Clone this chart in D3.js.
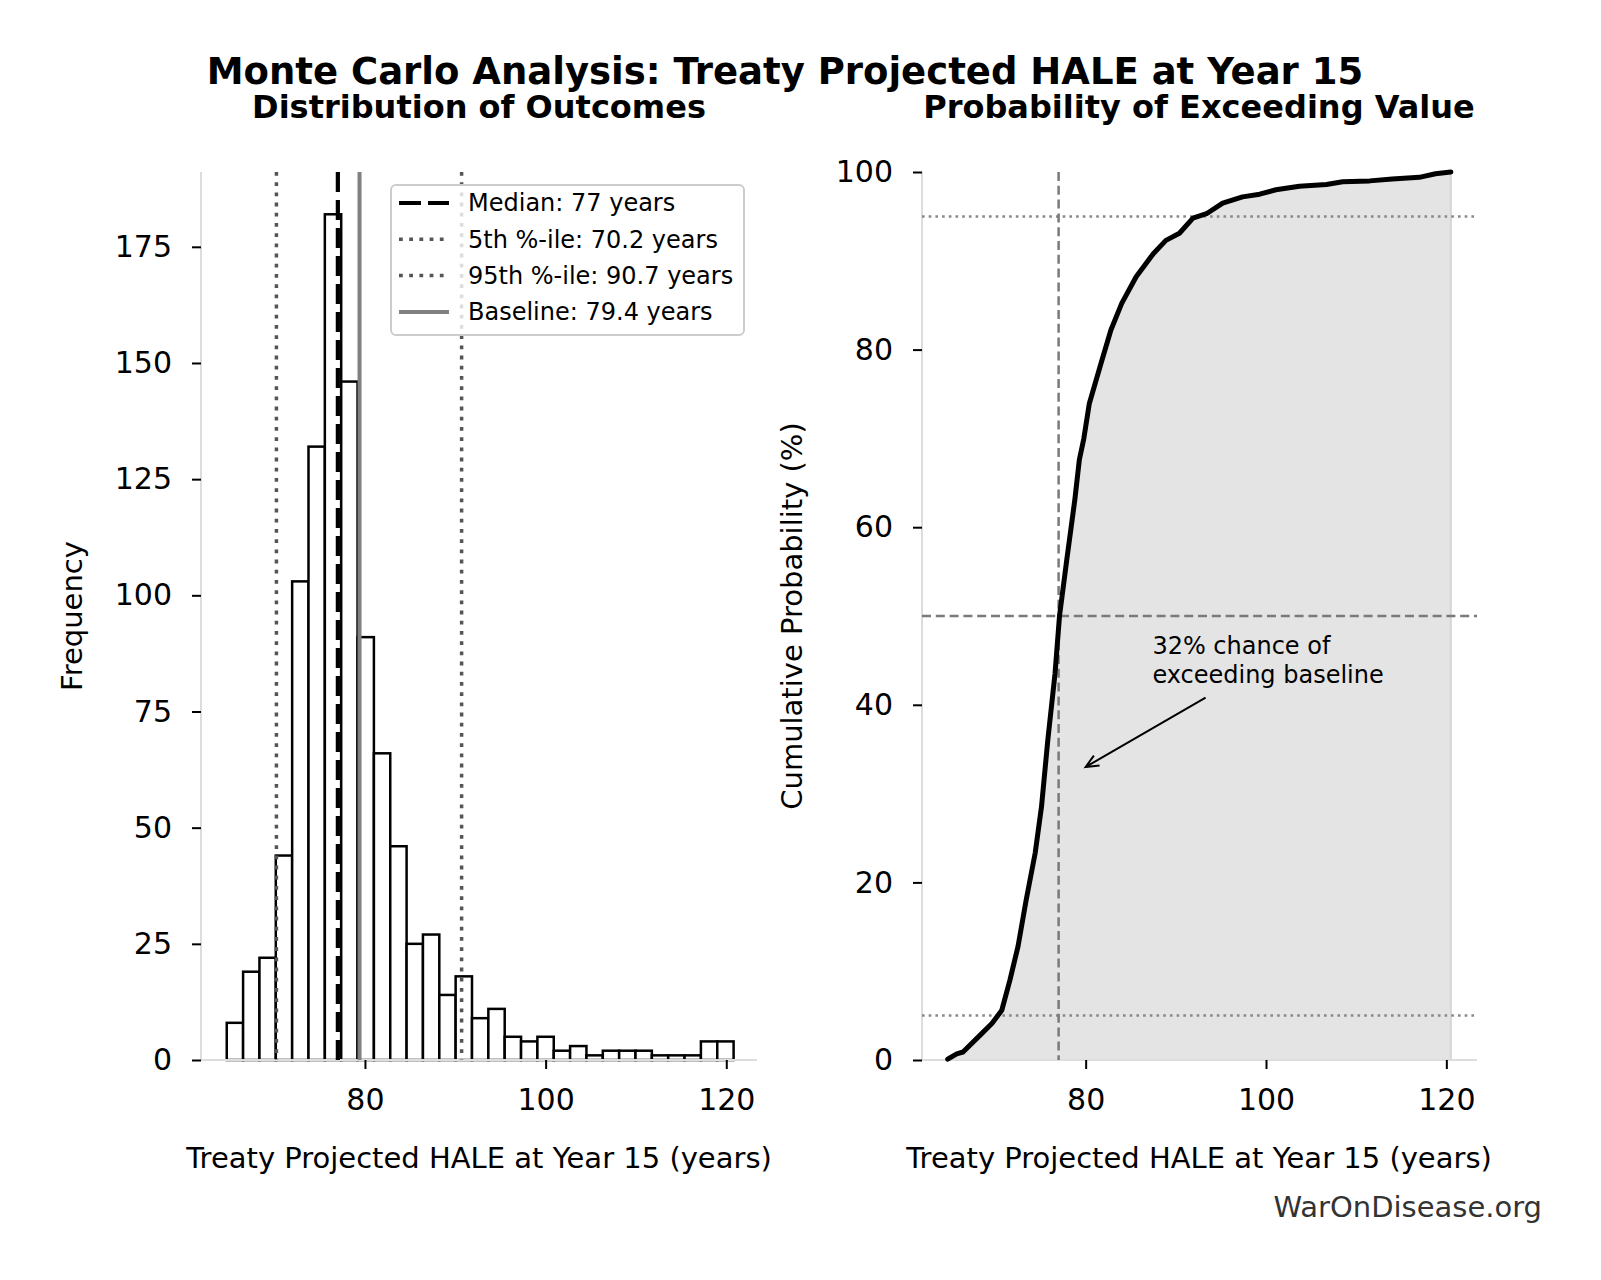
<!DOCTYPE html>
<html>
<head>
<meta charset="utf-8">
<script src="https://cdnjs.cloudflare.com/ajax/libs/d3/7.8.5/d3.min.js"></script>
<style>
  body { margin: 0; background: #fff; }
  svg { display: block; font-family: "DejaVu Sans", sans-serif; }
</style>
</head>
<body>
<script>
// histogram of the 1000 simulated outcomes
const binEdges = [64.70, 66.51, 68.32, 70.13, 71.94, 73.75, 75.56, 77.37, 79.18, 80.99,
  82.80, 84.61, 86.42, 88.23, 90.04, 91.85, 93.66, 95.47, 97.28, 99.09, 100.90,
  102.71, 104.52, 106.33, 108.14, 109.95, 111.76, 113.57, 115.38, 117.19, 119.00, 120.81];
const binCounts = [8, 19, 22, 44, 103, 132, 182, 146, 91, 66, 46, 25, 27, 14, 18, 9, 11,
  5, 4, 5, 2, 3, 1, 2, 2, 2, 1, 1, 1, 4, 4];

// cumulative curve
const cdfX = [64.7, 65.7, 66.4, 68.3, 69.6, 70.7, 71.6, 72.5, 73.4, 74.4, 75.1, 75.8, 76.6,
  77.1, 77.9, 78.8, 79.3, 79.8, 80.4, 81.6, 82.8, 84.0, 85.6, 87.5, 88.9, 90.4, 91.9,
  93.4, 95.2, 97.4, 99.3, 101.1, 103.7, 106.7, 108.5, 111.5, 114.0, 117.0, 118.8, 120.5];
const cdfPct = [0.1, 0.7, 0.9, 2.8, 4.1, 5.6, 9.0, 12.8, 18.0, 23.3, 28.5, 36.0, 43.5,
  50.0, 56.3, 63.1, 67.6, 70.0, 73.9, 78.1, 82.2, 85.2, 88.2, 90.8, 92.3, 93.1, 94.8,
  95.3, 96.5, 97.2, 97.5, 98.0, 98.4, 98.6, 98.9, 99.0, 99.2, 99.4, 99.8, 100];

const median = 77.0;
const p5 = 70.2;
const p95 = 90.7;
const baseline = 79.4;
const legendLabels = ["Median: 77 years", "5th %-ile: 70.2 years", "95th %-ile: 90.7 years", "Baseline: 79.4 years"];

const xTicks = [80, 100, 120];
const histYTicks = [0, 25, 50, 75, 100, 125, 150, 175];
const cdfYTicks = [0, 20, 40, 60, 80, 100];
const pctLines = [5, 50, 95];

const xDomain = [61.85, 123.4];
const histMax = 191.1;

const W = 1601, H = 1280;
const plotTop = 172, plotBottom = 1060;
const tickFont = 30, labelFont = 29;

const svg = d3.select("body").append("svg")
  .attr("width", W)
  .attr("height", H);

svg.append("rect").attr("width", W).attr("height", H).attr("fill", "#fff");

// suptitle
svg.append("text")
  .attr("x", 785).attr("y", 84)
  .attr("text-anchor", "middle")
  .style("font-size", "37px").style("font-weight", "bold")
  .text("Monte Carlo Analysis: Treaty Projected HALE at Year 15");

function axes(g, x, y, yTicks) {
  // light spines
  g.append("line").attr("x1", x.range()[0]).attr("x2", x.range()[0])
    .attr("y1", plotTop).attr("y2", plotBottom)
    .attr("stroke", "#dddddd").attr("stroke-width", 2);
  g.append("line").attr("x1", x.range()[0]).attr("x2", x.range()[1])
    .attr("y1", plotBottom).attr("y2", plotBottom)
    .attr("stroke", "#dddddd").attr("stroke-width", 2);

  const xa = g.append("g").attr("transform", "translate(0," + plotBottom + ")")
    .call(d3.axisBottom(x).tickValues(xTicks).tickSize(9).tickPadding(20));
  const ya = g.append("g").attr("transform", "translate(" + x.range()[0] + ",0)")
    .call(d3.axisLeft(y).tickValues(yTicks).tickSize(9).tickPadding(20));
  [xa, ya].forEach(a => {
    a.select(".domain").remove();
    a.selectAll("line").attr("stroke", "#000").attr("stroke-width", 2);
    a.selectAll("text").attr("fill", "#000")
      .style("font-size", tickFont + "px").style("font-family", "DejaVu Sans");
  });
}

// ---------- left: histogram ----------
const xL = d3.scaleLinear().domain(xDomain).range([201, 757]);
const yL = d3.scaleLinear().domain([0, histMax]).range([plotBottom, plotTop]);
const left = svg.append("g");

svg.append("text")
  .attr("x", 479).attr("y", 118)
  .attr("text-anchor", "middle")
  .style("font-size", "32px").style("font-weight", "bold")
  .text("Distribution of Outcomes");

left.selectAll("rect.bar")
  .data(binCounts)
  .enter()
  .append("rect")
  .attr("class", "bar")
  .attr("x", (d, i) => xL(binEdges[i]))
  .attr("width", (d, i) => xL(binEdges[i + 1]) - xL(binEdges[i]))
  .attr("y", d => yL(d))
  .attr("height", d => yL(0) - yL(d))
  .attr("fill", "#fff")
  .attr("stroke", "#000")
  .attr("stroke-width", 2.5);

axes(left, xL, yL, histYTicks);

const lineStyles = [
  { v: median, color: "#000", w: 4.2, dash: "20,8" },
  { v: p5, color: "#555", w: 3.5, dash: "3.8,6.4" },
  { v: p95, color: "#555", w: 3.5, dash: "3.8,6.4" },
  { v: baseline, color: "#808080", w: 4, dash: null }
];

left.selectAll("line.ref")
  .data(lineStyles)
  .enter()
  .append("line")
  .attr("class", "ref")
  .attr("x1", d => xL(d.v)).attr("x2", d => xL(d.v))
  .attr("y1", plotTop).attr("y2", plotBottom)
  .attr("stroke", d => d.color)
  .attr("stroke-width", d => d.w)
  .attr("stroke-dasharray", d => d.dash);

// legend
const lg = left.append("g").attr("transform", "translate(391,185)");
lg.append("rect")
  .attr("width", 353).attr("height", 150).attr("rx", 5)
  .attr("fill", "#fff").attr("fill-opacity", 0.8)
  .attr("stroke", "#cccccc").attr("stroke-width", 2);
legendLabels.forEach((lab, i) => {
  const s = lineStyles[i];
  const cy = 18 + i * 36.3;
  lg.append("line")
    .attr("x1", 8).attr("x2", 58).attr("y1", cy).attr("y2", cy)
    .attr("stroke", s.color).attr("stroke-width", s.w)
    .attr("stroke-dasharray", s.dash ? (i === 0 ? "22,7" : s.dash) : null);
  lg.append("text")
    .attr("x", 77).attr("y", cy).attr("dy", "0.35em")
    .style("font-size", "24px")
    .text(lab);
});

left.append("text")
  .attr("x", 479).attr("y", 1168)
  .attr("text-anchor", "middle")
  .style("font-size", labelFont + "px")
  .text("Treaty Projected HALE at Year 15 (years)");

left.append("text")
  .attr("transform", "translate(71.5," + ((plotTop + plotBottom) / 2) + ") rotate(-90)")
  .attr("text-anchor", "middle").attr("dy", "0.35em")
  .style("font-size", labelFont + "px")
  .text("Frequency");

// ---------- right: cumulative ----------
const xR = d3.scaleLinear().domain(xDomain).range([922, 1477]);
const yR = d3.scaleLinear().domain([0, 100]).range([plotBottom, plotTop]);
const right = svg.append("g");
const cdf = cdfX.map((x, i) => ({ x: x, p: cdfPct[i] }));

svg.append("text")
  .attr("x", 1199).attr("y", 118)
  .attr("text-anchor", "middle")
  .style("font-size", "32px").style("font-weight", "bold")
  .text("Probability of Exceeding Value");

right.append("path")
  .datum(cdf)
  .attr("d", d3.area().x(d => xR(d.x)).y0(yR(0)).y1(d => yR(d.p)))
  .attr("fill", "#e4e4e4")
  .attr("stroke", "#d6d6d6")
  .attr("stroke-width", 2);

axes(right, xR, yR, cdfYTicks);

right.selectAll("line.pct")
  .data(pctLines)
  .enter()
  .append("line")
  .attr("class", "pct")
  .attr("x1", xR.range()[0]).attr("x2", xR.range()[1])
  .attr("y1", d => yR(d)).attr("y2", d => yR(d))
  .attr("stroke", d => d === 50 ? "#7a7a7a" : "#888")
  .attr("stroke-width", 2.5)
  .attr("stroke-dasharray", d => d === 50 ? "9,4.8" : "2.6,4.1");

right.append("line")
  .attr("x1", xR(median)).attr("x2", xR(median))
  .attr("y1", plotTop).attr("y2", plotBottom)
  .attr("stroke", "#7a7a7a").attr("stroke-width", 2.5)
  .attr("stroke-dasharray", "9,4.8");

right.append("path")
  .datum(cdf)
  .attr("d", d3.line().x(d => xR(d.x)).y(d => yR(d.p)))
  .attr("fill", "none")
  .attr("stroke", "#000")
  .attr("stroke-width", 5)
  .attr("stroke-linejoin", "round")
  .attr("stroke-linecap", "round");

// annotation
const tip = [xR(80), yR(33)];
const tail = [xR(93.3), yR(40.8)];
const ang = Math.atan2(tail[1] - tip[1], tail[0] - tip[0]);
const hl = 14, ha = 0.42;
right.append("path")
  .attr("d", "M" + tail[0] + "," + tail[1] + "L" + tip[0] + "," + tip[1] +
    "M" + (tip[0] + hl * Math.cos(ang - ha)) + "," + (tip[1] + hl * Math.sin(ang - ha)) +
    "L" + tip[0] + "," + tip[1] +
    "L" + (tip[0] + hl * Math.cos(ang + ha)) + "," + (tip[1] + hl * Math.sin(ang + ha)))
  .attr("fill", "none").attr("stroke", "#000").attr("stroke-width", 2);

const note = right.append("text")
  .attr("x", xR(87.4)).attr("y", 654)
  .style("font-size", "24px");
note.append("tspan").attr("x", xR(87.4)).text("32% chance of");
note.append("tspan").attr("x", xR(87.4)).attr("dy", 28.5).text("exceeding baseline");

right.append("text")
  .attr("x", 1199).attr("y", 1168)
  .attr("text-anchor", "middle")
  .style("font-size", labelFont + "px")
  .text("Treaty Projected HALE at Year 15 (years)");

right.append("text")
  .attr("transform", "translate(792," + ((plotTop + plotBottom) / 2) + ") rotate(-90)")
  .attr("text-anchor", "middle").attr("dy", "0.35em")
  .style("font-size", labelFont + "px")
  .text("Cumulative Probability (%)");

svg.append("text")
  .attr("x", 1542).attr("y", 1217)
  .attr("text-anchor", "end")
  .attr("fill", "#333")
  .style("font-size", "29px")
  .text("WarOnDisease.org");
</script>
</body>
</html>
